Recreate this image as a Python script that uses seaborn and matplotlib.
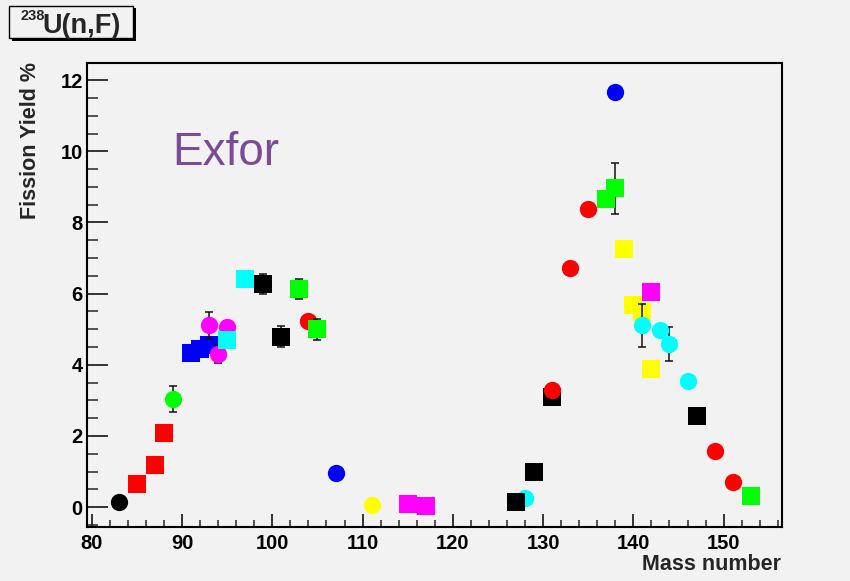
import matplotlib
matplotlib.use("Agg")
import matplotlib.pyplot as plt
from matplotlib.patches import Rectangle
from matplotlib.ticker import MultipleLocator
import seaborn as sns

# 238U(n,F) fission product yields, grouped by measurement set
black_circle_mass = [83]
black_circle_yield = [0.15]

red_square_mass = [85, 87, 88]
red_square_yield = [0.64, 1.19, 2.09]

green_circle_mass = [89]
green_circle_yield = [3.03]
green_circle_err = [0.37]

blue_square_mass = [91, 92, 93]
blue_square_yield = [4.34, 4.45, 4.55]

magenta_circle_mass = [93, 94, 95]
magenta_circle_yield = [5.11, 4.31, 5.06]
magenta_circle_err = [0.38, 0.25, 0.0]

cyan_square_mass = [95, 97]
cyan_square_yield = [4.71, 6.42]

blue_circle_mass = [107, 138]
blue_circle_yield = [0.96, 11.67]

yellow_circle_mass = [111]
yellow_circle_yield = [0.05]

magenta_square_mass = [115, 117, 142]
magenta_square_yield = [0.08, 0.02, 6.05]

yellow_square_mass = [139, 140, 141, 142]
yellow_square_yield = [7.25, 5.67, 5.49, 3.89]

cyan_circle_mass = [128, 141, 143, 144, 146]
cyan_circle_yield = [0.26, 5.11, 4.97, 4.58, 3.54]
cyan_circle_err = [0.0, 0.60, 0.0, 0.47, 0.0]

black_square_mass = [99, 101, 127, 129, 131, 147]
black_square_yield = [6.28, 4.79, 0.15, 0.98, 3.09, 2.56]
black_square_err = [0.28, 0.29, 0.0, 0.0, 0.0, 0.0]

red_circle_mass = [104, 131, 133, 135, 149, 151]
red_circle_yield = [5.23, 3.28, 6.72, 8.39, 1.59, 0.70]

green_square_mass = [103, 105, 137, 138, 153]
green_square_yield = [6.12, 5.00, 8.67, 8.96, 0.31]
green_square_err = [0.28, 0.30, 0.0, 0.72, 0.0]

x_ticks = [80, 90, 100, 110, 120, 130, 140, 150]
y_ticks = [0, 2, 4, 6, 8, 10, 12]

BG = "#f2f2f2"

sns.set_theme(style="ticks")
plt.rcParams["font.family"] = ["Liberation Sans", "DejaVu Sans"]

fig = plt.figure(figsize=(8.5, 5.81), dpi=100, facecolor=BG)
W, H = 850.0, 581.0
ax = fig.add_axes([87.3 / W, 1 - 526.7 / H, (782.3 - 87.3) / W, (526.7 - 62.7) / H])
ax.set_facecolor(BG)

# (mass, yield, errors, colour, marker) in drawing order
series = [
    (black_circle_mass, black_circle_yield, None, "#000000", "o"),
    (red_square_mass, red_square_yield, None, "#ff0000", "s"),
    (green_circle_mass, green_circle_yield, green_circle_err, "#00ff00", "o"),
    (blue_square_mass, blue_square_yield, None, "#0000ff", "s"),
    (magenta_circle_mass, magenta_circle_yield, magenta_circle_err, "#ff00ff", "o"),
    (cyan_square_mass, cyan_square_yield, None, "#00ffff", "s"),
    (blue_circle_mass, blue_circle_yield, None, "#0000ff", "o"),
    (yellow_circle_mass, yellow_circle_yield, None, "#ffff00", "o"),
    (magenta_square_mass, magenta_square_yield, None, "#ff00ff", "s"),
    (yellow_square_mass, yellow_square_yield, None, "#ffff00", "s"),
    (cyan_circle_mass, cyan_circle_yield, cyan_circle_err, "#00ffff", "o"),
    (black_square_mass, black_square_yield, black_square_err, "#000000", "s"),
    (red_circle_mass, red_circle_yield, None, "#ff0000", "o"),
    (green_square_mass, green_square_yield, green_square_err, "#00ff00", "s"),
]

for i, (mass, yld, err, color, marker) in enumerate(series):
    if err is not None:
        pts = [(m, y, e) for m, y, e in zip(mass, yld, err) if e > 0]
        ax.errorbar([p[0] for p in pts], [p[1] for p in pts],
                    yerr=[p[2] for p in pts], fmt="none", ecolor="#111111",
                    elinewidth=1.1, capsize=2.9, capthick=1.1, zorder=2 + i)
    size = 175 if marker == "s" else 155
    sns.scatterplot(x=mass, y=yld, color=color, marker=marker, s=size,
                    linewidth=0, ax=ax, zorder=2.5 + i, legend=False)

ax.set_xlim(79.5, 156.5)
ax.set_ylim(-0.55, 12.49)
ax.set_xticks(x_ticks)
ax.set_yticks(y_ticks)
ax.set_xticklabels([str(t) for t in x_ticks])
ax.set_yticklabels([str(t) for t in y_ticks])
ax.xaxis.set_minor_locator(MultipleLocator(2))
ax.yaxis.set_minor_locator(MultipleLocator(0.5))
ax.tick_params(axis="x", which="major", direction="in", length=9.5, width=1.1,
               pad=5, labelsize=14.5, colors="black")
ax.tick_params(axis="x", which="minor", direction="in", length=4.8, width=1.1)
ax.tick_params(axis="y", which="major", direction="in", length=15, width=1.1,
               pad=3.3, labelsize=14.5, colors="black")
ax.tick_params(axis="y", which="minor", direction="in", length=8, width=1.1)
for lab in ax.get_xticklabels() + ax.get_yticklabels():
    lab.set_fontweight("bold")
for side in ["left", "bottom", "top", "right"]:
    ax.spines[side].set_visible(True)
    ax.spines[side].set_color("black")
    ax.spines[side].set_linewidth(1.5)
ax.set_xlabel("")
ax.set_ylabel("")
ax.grid(False)

# axis titles, flush with the ends of the axes
fig.text(780.7 / W, 1 - 570 / H, "Mass number", ha="right", va="baseline",
         fontsize=15.5, fontweight="bold")
fig.text(31 / W, 1 - 61.7 / H, "Fission Yield %", ha="center", va="top",
         rotation=90, fontsize=15.5, fontweight="bold")

ax.text(0.1229, 0.7795, "Exfor", transform=ax.transAxes, ha="left",
        va="baseline", fontsize=33, color="#7b4b99")

# title box with drop shadow
fig.patches.append(Rectangle((11.5 / W, 1 - 40.8 / H), 124 / W, 32.6 / H,
                             transform=fig.transFigure, facecolor="black",
                             edgecolor="none", zorder=1))
fig.patches.append(Rectangle((9 / W, 1 - 38.3 / H), 124 / W, 32.6 / H,
                             transform=fig.transFigure, facecolor=BG,
                             edgecolor="black", linewidth=1.0, zorder=2))
fig.text(20.7 / W, 1 - 20.5 / H, "238", ha="left", va="baseline",
         fontsize=10.5, fontweight="bold", zorder=3)
fig.text(42.7 / W, 1 - 33.3 / H, "U(n,F)", ha="left", va="baseline",
         fontsize=19.5, fontweight="bold", zorder=3)

fig.savefig("out.png", dpi=100, facecolor=BG)
